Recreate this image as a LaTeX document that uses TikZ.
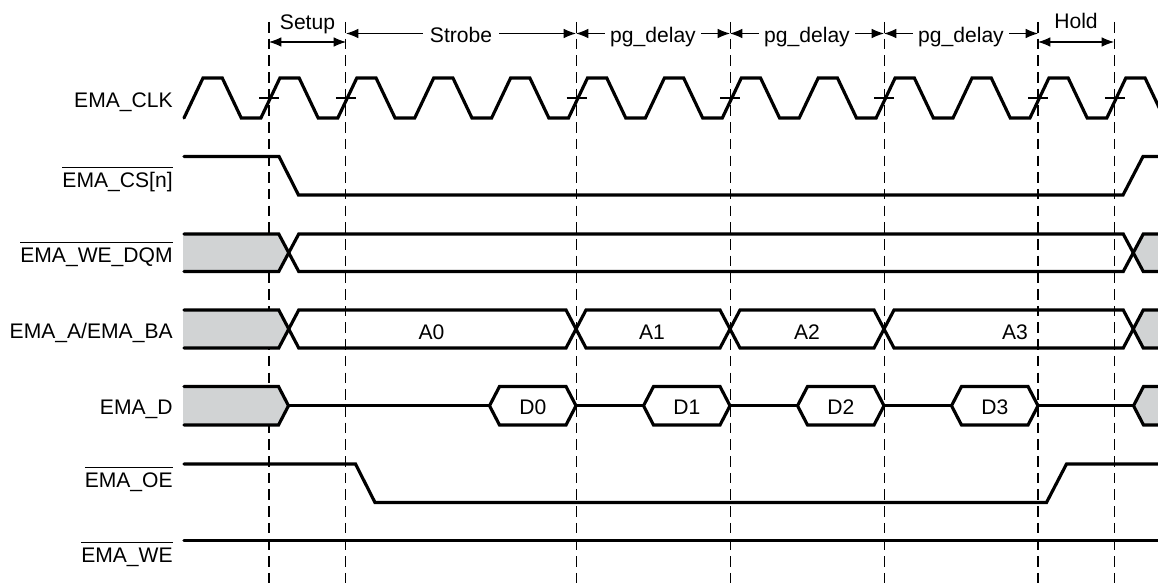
\documentclass[tikz,border=0pt]{standalone}
\usepackage{fontspec}
\setmainfont{Liberation Sans}
\usetikzlibrary{arrows.meta}
\definecolor{busgray}{RGB}{209,211,212}
\newcommand{\ovsig}[1]{\vbox{\hrule height 0.6pt\kern 2.6pt\hbox{#1}}}

\begin{document}
\begin{tikzpicture}[font=\fontsize{12}{14}\selectfont,
	>={Latex[length=7pt,width=5.5pt]},
	sig/.style={line width=1.8pt, line cap=round},
	guide/.style={line width=0.6pt, dash pattern=on 6pt off 3.5pt},
	dim/.style={<->, line width=0.6pt},
	lbl/.style={anchor=base east, inner sep=0pt},
	val/.style={anchor=base, inner sep=0pt}]
\useasboundingbox (0,0) rectangle (23.16,-11.7);
\clip (0,0) rectangle (23.16,-11.7);

\foreach \k in {0,1,4,6,8,10,11} {
	\draw[guide] (5.38+\k*1.538,-0.44) -- (5.38+\k*1.538,-11.7);
	\draw[line width=0.6pt] (5.18+\k*1.538,-1.96) -- +(0.4,0);
}

\draw[dim] (5.38,-0.84) -- (6.92,-0.84);
\node[val] (setup) at (6.15,-0.585) {Setup};
\draw[dim] (6.92,-0.67) -- (11.52,-0.67);
\node[val,fill=white,inner xsep=4pt] (strobe) at (9.22,-0.846) {Strobe};
\foreach \x [count=\i] in {11.52,14.60,17.68} {
	\draw[dim] (\x,-0.67) -- +(3.08,0);
	\node[val,fill=white,inner xsep=3pt] (pg\i) at (\x+1.54,-0.86) {pg\_delay};
}
\draw[dim] (20.76,-0.84) -- (22.28,-0.84);
\node[val] (hold) at (21.52,-0.57) {Hold};

\node[lbl] (clk) at (3.46,-2.16) {EMA\_CLK};
\node[lbl] (cs) at (3.46,-3.75) {\ovsig{EMA\_CS[n]}};
\node[lbl] (wedqm) at (3.46,-5.25) {\ovsig{EMA\_WE\_DQM}};
\node[lbl] (addr) at (3.46,-6.77) {EMA\_A/EMA\_BA};
\node[lbl] (data) at (3.46,-8.29) {EMA\_D};
\node[lbl] (oe) at (3.46,-9.75) {\ovsig{EMA\_OE}};
\node[lbl] (we) at (3.46,-11.25) {\ovsig{EMA\_WE}};

% clock
\draw[sig] (3.68,-2.36) \foreach \k in {-1,...,11} { -- ++(0.38,0.8) -- ++(0.385,0) -- ++(0.38,-0.8) -- ++(0.393,0) };

% chip select
\draw[sig] (3.68,-3.13) -- (5.58,-3.13) -- (5.97,-3.9) -- (22.46,-3.9) -- (22.86,-3.13) -- (23.2,-3.13);

% we_dqm
\fill[busgray] (3.66,-4.68) -- (5.575,-4.68) -- (5.775,-5.055) -- (5.575,-5.43) -- (3.66,-5.43) -- cycle;
\fill[busgray] (23.2,-4.68) -- (22.865,-4.68) -- (22.665,-5.055) -- (22.865,-5.43) -- (23.2,-5.43) -- cycle;
\draw[sig] (3.68,-4.68) -- (5.575,-4.68) -- (5.975,-5.43) -- (22.465,-5.43) -- (22.865,-4.68) -- (23.2,-4.68);
\draw[sig] (3.68,-5.43) -- (5.575,-5.43) -- (5.975,-4.68) -- (22.465,-4.68) -- (22.865,-5.43) -- (23.2,-5.43);

% address
\fill[busgray] (3.66,-6.2) -- (5.575,-6.2) -- (5.775,-6.58) -- (5.575,-6.96) -- (3.66,-6.96) -- cycle;
\fill[busgray] (23.2,-6.2) -- (22.865,-6.2) -- (22.665,-6.58) -- (22.865,-6.96) -- (23.2,-6.96) -- cycle;
\draw[sig] (3.68,-6.2) -- (5.575,-6.2) -- (5.975,-6.96) -- (11.32,-6.96) -- (11.72,-6.2) -- (14.40,-6.2) -- (14.80,-6.96) -- (17.48,-6.96) -- (17.88,-6.2) -- (22.465,-6.2) -- (22.865,-6.96) -- (23.2,-6.96);
\draw[sig] (3.68,-6.96) -- (5.575,-6.96) -- (5.975,-6.2) -- (11.32,-6.2) -- (11.72,-6.96) -- (14.40,-6.96) -- (14.80,-6.2) -- (17.48,-6.2) -- (17.88,-6.96) -- (22.465,-6.96) -- (22.865,-6.2) -- (23.2,-6.2);
\node[val] (a0) at (8.63,-6.79) {A0};
\node[val] (a1) at (13.04,-6.79) {A1};
\node[val] (a2) at (16.14,-6.79) {A2};
\node[val] (a3) at (20.3,-6.79) {A3};

% data
\fill[busgray] (3.66,-7.73) -- (5.57,-7.73) -- (5.77,-8.115) -- (5.57,-8.5) -- (3.66,-8.5) -- cycle;
\fill[busgray] (23.2,-7.73) -- (22.87,-7.73) -- (22.67,-8.115) -- (22.87,-8.5) -- (23.2,-8.5) -- cycle;
\draw[sig] (3.68,-7.73) -- (5.57,-7.73) -- (5.77,-8.115) -- (5.57,-8.5) -- (3.68,-8.5);
\draw[sig] (5.77,-8.115) -- (22.67,-8.115);
\draw[sig] (23.2,-7.73) -- (22.87,-7.73) -- (22.67,-8.115) -- (22.87,-8.5) -- (23.2,-8.5);
\foreach \n in {0,...,3} {
	\pgfmathsetmacro{\x}{11.52+\n*3.08}
	\draw[sig,fill=white] (\x,-8.115) -- ++(-0.2,0.385) -- ++(-1.33,0) -- ++(-0.2,-0.385) -- ++(0.2,-0.385) -- ++(1.33,0) -- cycle;
	\node[val] (d\n) at (\x-0.865,-8.29) {D\n};
}

% output enable, write enable
\draw[sig] (3.68,-9.28) -- (7.11,-9.28) -- (7.5,-10.05) -- (20.93,-10.05) -- (21.33,-9.28) -- (23.2,-9.28);
\draw[sig] (3.68,-10.81) -- (23.2,-10.81);

\end{tikzpicture}
\end{document}
